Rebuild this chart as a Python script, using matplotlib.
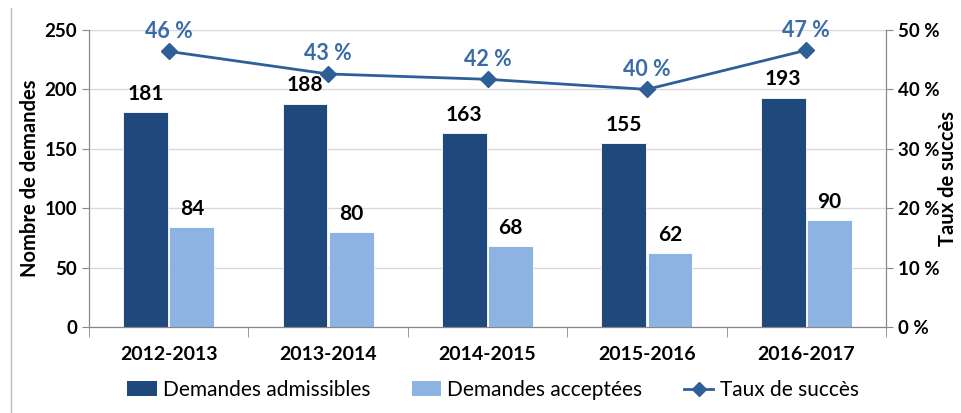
import matplotlib
matplotlib.use("Agg")
import matplotlib.pyplot as plt
from matplotlib.lines import Line2D
from matplotlib.patches import Patch
import numpy as np

plt.rcParams['font.family'] = ['Lato', 'DejaVu Sans']

# data
annees = ['2012-2013', '2013-2014', '2014-2015', '2015-2016', '2016-2017']
admissibles = [181, 188, 163, 155, 193]
acceptees = [84, 80, 68, 62, 90]
taux = [46.4, 42.6, 41.7, 40.0, 46.6]
taux_labels = ['46 %', '43 %', '42 %', '40 %', '47 %']

dark = '#1F497D'
light = '#8DB3E2'
line_col = '#2F5F98'
grid_col = '#D9D9D9'
axis_col = '#888888'

fig = plt.figure(figsize=(9.61, 4.13), dpi=100)
ax = fig.add_axes([89 / 961, 1 - 327 / 413, (886 - 89) / 961, (327 - 30) / 413])

x = np.arange(len(annees))
w = 0.28
b1 = ax.bar(x - w / 2 - 0.005, admissibles, w, color=dark, edgecolor='white', linewidth=0.6, zorder=3)
b2 = ax.bar(x + w / 2 + 0.005, acceptees, w, color=light, edgecolor='white', linewidth=0.6, zorder=3)

for rect, v in zip(b1, admissibles):
    ax.text(rect.get_x() + rect.get_width() / 2, v + 7, str(v), ha='center', va='bottom',
            fontsize=15, fontweight='bold', color='black')
for rect, v in zip(b2, acceptees):
    ax.text(rect.get_x() + rect.get_width() / 2, v + 7, str(v), ha='center', va='bottom',
            fontsize=15, fontweight='bold', color='black')

ax.set_xlim(-0.5, len(annees) - 0.5)
ax.set_ylim(0, 250)
ax.set_yticks(np.arange(0, 251, 50))
ax.set_xticks(x)
ax.set_xticklabels(annees, fontsize=14, fontweight='bold')
ax.set_xticks(np.arange(-0.5, len(annees), 1), minor=True)
ax.tick_params(axis='x', which='major', length=0, pad=14)
ax.tick_params(axis='x', which='minor', length=7, color=axis_col, direction='out')
ax.tick_params(axis='y', length=5, color=axis_col, labelsize=13.5)
for lab in ax.get_yticklabels():
    lab.set_fontweight('bold')
ax.yaxis.grid(True, color=grid_col, linewidth=1, zorder=0)
ax.set_axisbelow(True)
ax.spines['top'].set_visible(False)
for s in ['left', 'bottom', 'right']:
    ax.spines[s].set_color(axis_col)
ax.set_ylabel('Nombre de demandes', fontsize=14.5, fontweight='bold')
ax.yaxis.set_label_coords(-0.061, 0.5)

ax2 = ax.twinx()
ax2.plot(x, taux, color=line_col, linewidth=2, marker='D', markersize=8, zorder=5)
ax2.set_ylim(0, 50)
ax2.set_yticks(np.arange(0, 51, 10))
ax2.set_yticklabels([f'{t} %' for t in range(0, 51, 10)], fontsize=13.5, fontweight='bold')
ax2.tick_params(axis='y', length=5, color=axis_col)
ax2.spines['top'].set_visible(False)
for s in ['left', 'bottom', 'right']:
    ax2.spines[s].set_color(axis_col)
ax2.set_ylabel('Taux de succès', fontsize=14.5, fontweight='bold', rotation=90, va='center')
ax2.yaxis.set_label_coords(1.078, 0.5)
for xi, t, lab in zip(x, taux, taux_labels):
    ax2.text(xi, t + 1.6, lab, ha='center', va='bottom', fontsize=15.5,
             fontweight='bold', color='#3A6BA8')

handles = [Patch(facecolor=dark), Patch(facecolor=light),
           Line2D([0], [0], color=line_col, linewidth=2, marker='D', markersize=7)]
labels = ['Demandes admissibles', 'Demandes acceptées', 'Taux de succès']
fig.legend(handles, labels, loc='center', bbox_to_anchor=(493 / 961, 1 - 390 / 413), ncol=3,
           frameon=False, fontsize=15, handlelength=1.4, handleheight=0.7, columnspacing=2.0,
           handletextpad=0.3)

fig.add_artist(Line2D([11 / 961, 11 / 961], [0, 1 - 8 / 413], color='#BBBBBB', linewidth=1))

fig.savefig('out.png', dpi=100)
